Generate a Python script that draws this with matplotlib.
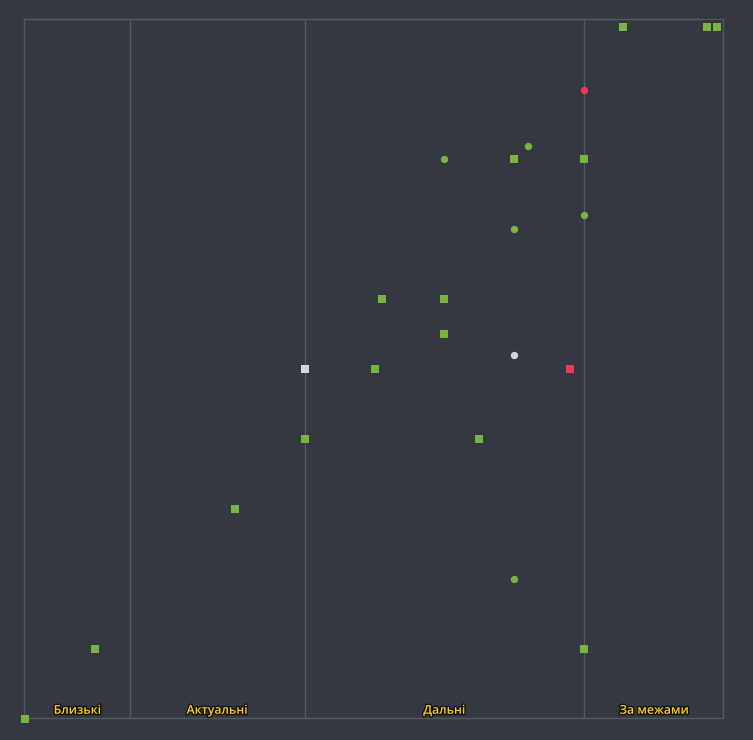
import matplotlib
matplotlib.use("Agg")
import matplotlib.pyplot as plt
import matplotlib.patheffects as pe

# point data (x, y, marker, colour group)
xs = [0, 10, 30, 40, 40, 50, 51, 60, 60, 60, 65, 70, 70, 70, 70, 72, 78, 80, 80, 80, 80, 85.5, 97.5, 99]
ys = [0, 10, 30, 40, 50, 50, 60, 60, 55, 80, 40, 80, 70, 52, 20, 82, 50, 90, 80, 72, 10, 99, 99, 99]
shapes = ["s", "s", "s", "s", "s", "s", "s", "s", "s", "o", "s", "s", "o", "o", "o", "o", "s", "o", "s", "o", "s", "s", "s", "s"]
groups = ["g", "g", "g", "g", "w", "g", "g", "g", "g", "g", "g", "g", "g", "w", "g", "g", "r", "r", "g", "g", "g", "g", "g", "g"]

zone_edges = [15, 40, 80]
zone_names = ["Близькі", "Актуальні", "Дальні", "За межами"]
zone_centers = [7.5, 27.5, 60, 90]

colors = {"g": "#78b53f", "w": "#d6d6d6", "r": "#f2385a"}
bg = "#343941"

fig = plt.figure(figsize=(7.53, 7.40), dpi=100, facecolor=bg)
ax = fig.add_axes([24 / 753, 22 / 740, 699 / 753, 699 / 740])
ax.set_facecolor(bg)
ax.set_xlim(-0.15, 99.85)
ax.set_ylim(0.1, 100.1)
for s in ax.spines.values():
    s.set_color("#55595e")
    s.set_linewidth(1)
ax.set_xticks([])
ax.set_yticks([])

for e in zone_edges:
    ax.axvline(e, color="#55595e", lw=1, zorder=1)

for x, y, m, g in zip(xs, ys, shapes, groups):
    ax.scatter(x, y, marker=m, s=26 if m == "s" else 28, color=colors[g],
               linewidths=0, zorder=3, clip_on=False)

for name, cx in zip(zone_names, zone_centers):
    ax.text(cx, 1.2, name, ha="center", va="center", fontsize=8.8,
            color="#ffcc1a", fontfamily="Open Sans", fontweight="semibold",
            path_effects=[pe.withStroke(linewidth=2, foreground="#111111")])

fig.savefig("out.png", dpi=100, facecolor=bg)
